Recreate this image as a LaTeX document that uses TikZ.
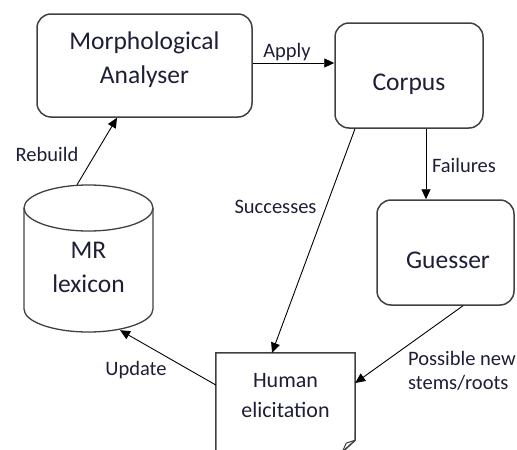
\documentclass[tikz,border=0pt]{standalone}
\usepackage{fontspec}
\setmainfont{Carlito}
\usetikzlibrary{arrows.meta}
\definecolor{boxgray}{RGB}{64,64,64}
\definecolor{txt}{RGB}{30,30,55}
\begin{document}
\begin{tikzpicture}[x=1pt,y=-1pt,
  boxr/.style={draw=boxgray,line width=1.5pt,rounded corners=14pt,inner sep=0pt},
  boxline/.style={draw=boxgray,line width=1.5pt},
  ghost/.style={inner sep=0pt,draw=none},
  big/.style={font=\fontsize{25.5}{34}\selectfont,text=txt,align=center,inner sep=0pt},
  mid/.style={font=\fontsize{22}{30}\selectfont,text=txt,align=center,inner sep=0pt},
  lbl/.style={font=\fontsize{20.5}{25}\selectfont,text=txt,inner sep=0pt},
  arr/.style={draw=black,line width=0.9pt,-{Triangle[length=10pt,width=9pt]}},
  conn/.style={draw=black,line width=0.9pt}]
\clip (0,0) rectangle (517,450);
% boxes
\node[boxr,minimum width=215pt,minimum height=103pt] (ma) at (144.5,65.5) {};
\node[boxr,minimum width=148pt,minimum height=105pt] (corpus) at (409,75.5) {};
\node[boxr,minimum width=137pt,minimum height=105pt] (guess) at (445.5,252.5) {};
\node[ghost,minimum width=129pt,minimum height=147pt] (mr) at (88.5,258.5) {};
\node[ghost,minimum width=139pt,minimum height=99pt] (hum) at (285.5,402.5) {};
% cylinder
\draw[boxline,line width=1.3pt] (24,208) -- (24,309) arc[start angle=180,end angle=0,x radius=64.5,y radius=23] -- (153,208);
\draw[boxline,line width=1.3pt] (88.5,208) ellipse[x radius=64.5,y radius=23];
% document shape
\draw[boxline] (hum.south west) -- (hum.north west) -- (hum.north east) -- ([yshift=12pt]hum.south east) -- ([xshift=-13pt]hum.south east);
\draw[boxline,line width=1pt] ([yshift=12pt]hum.south east) -- ([xshift=-9pt,yshift=9pt]hum.south east) -- ([xshift=-13pt]hum.south east);
% texts
\node[big] at (144.5,60) {Morphological\\Analyser};
\node[big,anchor=base] at (409,90) {Corpus};
\node[big,anchor=base] at (448,268) {Guesser};
\node[big] at (88.5,267.5) {MR\\lexicon};
\node[mid] at (285.5,396) {Human\\elicitation};
% connectors
\draw[arr] ([yshift=2.5pt]ma.east) -- node[lbl,anchor=base,pos=0.42,yshift=6pt] {Apply} ([yshift=12.5pt]corpus.west);
\draw[arr] ([xshift=17pt]corpus.south) -- ([xshift=-19.5pt]guess.north);
\draw[arr] ([xshift=-54pt]corpus.south) -- ([xshift=-13.5pt]hum.north);
\draw[arr] ([xshift=17.5pt]guess.south) -- ([yshift=19.5pt]hum.east);
\draw[arr] ([yshift=17.5pt]hum.west) -- ([xshift=31.5pt,yshift=2pt]mr.south);
\draw[arr] ([xshift=-11.5pt]mr.north) -- ([xshift=-27.5pt]ma.south);
% labels
\node[lbl,anchor=base] at (464,172) {Failures};
\node[lbl,anchor=base] at (275.5,213) {Successes};
\node[lbl,anchor=base] at (47,161) {Rebuild};
\node[lbl,anchor=base] at (136,375) {Update};
\node[lbl,anchor=west,align=left,font=\fontsize{20.5}{24}\selectfont] at (408,371) {Possible new\\stems/roots};
\end{tikzpicture}
\end{document}
